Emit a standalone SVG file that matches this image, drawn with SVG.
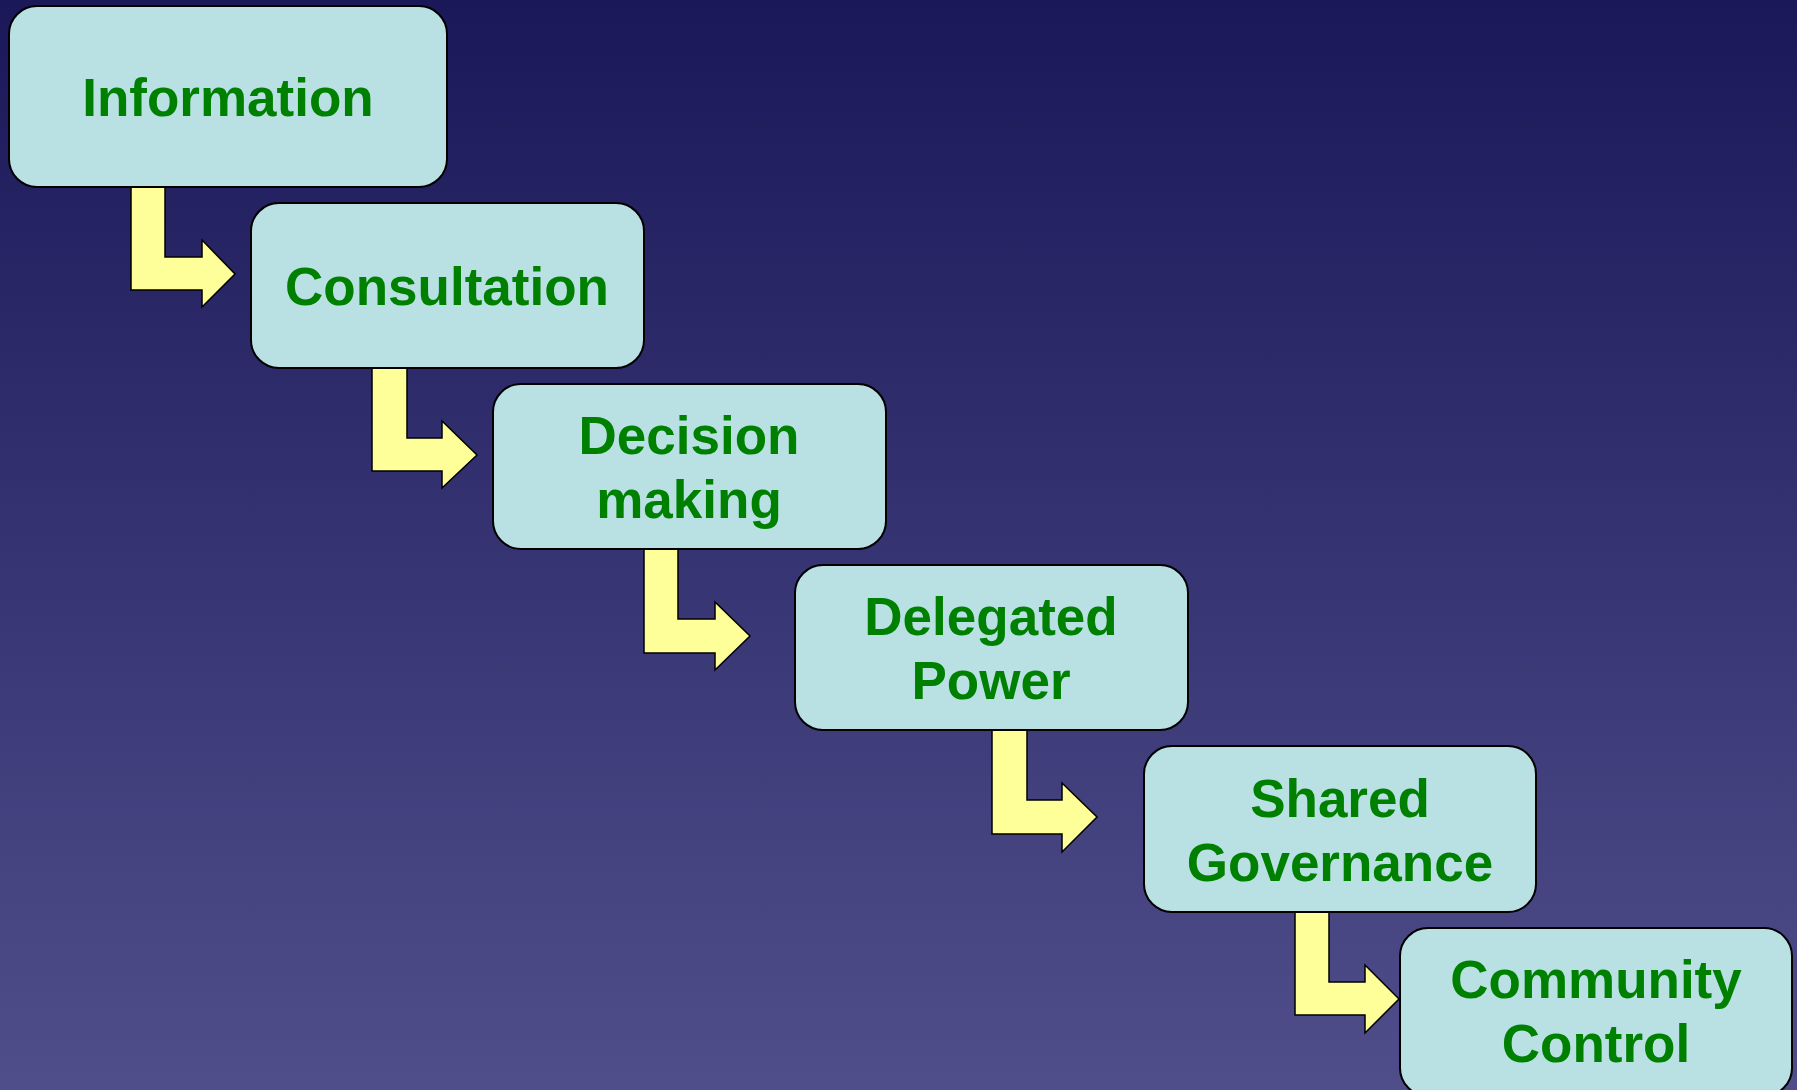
<svg xmlns="http://www.w3.org/2000/svg" width="1797" height="1090" viewBox="0 0 1797 1090">
<defs>
<linearGradient id="bg" x1="0" y1="0" x2="0" y2="1">
<stop offset="0" stop-color="#1a1858"/>
<stop offset="1" stop-color="#504e8a"/>
</linearGradient>
</defs>
<style>
.box{fill:#b9e0e3;stroke:#000;stroke-width:2}
.arr{fill:#ffff99;stroke:#000;stroke-width:1.5;stroke-linejoin:miter}
.t{font-family:"Liberation Sans",Arial,sans-serif;font-weight:bold;font-size:53px;fill:#008000;text-anchor:middle}
</style>
<rect x="0" y="0" width="1797" height="1090" fill="url(#bg)"/>
<g id="connectors">
<path class="arr" d="M131,187 H165 V257 H202 V240 L235,274 L202,307 V290 H131 Z"/>
<path class="arr" d="M372,368 H407 V438 H442 V421 L477,455 L442,488 V471 H372 Z"/>
<path class="arr" d="M644,549 H678 V619 H715 V602 L750,636 L715,670 V653 H644 Z"/>
<path class="arr" d="M992,730 H1027 V800 H1062 V783 L1097,817 L1062,852 V834 H992 Z"/>
<path class="arr" d="M1295,912 H1329 V982 H1365 V965 L1399,999 L1365,1033 V1015 H1295 Z"/>
</g>
<g id="information">
<rect class="box" x="9" y="6" width="438" height="181" rx="28"/>
<text class="t" x="228" y="116">Information</text>
</g>
<g id="consultation">
<rect class="box" x="251" y="203" width="393" height="165" rx="28"/>
<text class="t" x="447" y="305">Consultation</text>
</g>
<g id="decision-making">
<rect class="box" x="493" y="384" width="393" height="165" rx="28"/>
<text class="t" x="689" y="454">Decision</text>
<text class="t" x="689" y="518">making</text>
</g>
<g id="delegated-power">
<rect class="box" x="795" y="565" width="393" height="165" rx="28"/>
<text class="t" x="991" y="635">Delegated</text>
<text class="t" x="991" y="699">Power</text>
</g>
<g id="shared-governance">
<rect class="box" x="1144" y="746" width="392" height="166" rx="28"/>
<text class="t" x="1340" y="817">Shared</text>
<text class="t" x="1340" y="881">Governance</text>
</g>
<g id="community-control">
<rect class="box" x="1400" y="928" width="392" height="168" rx="28"/>
<text class="t" x="1596" y="998">Community</text>
<text class="t" x="1596" y="1062">Control</text>
</g>
</svg>
